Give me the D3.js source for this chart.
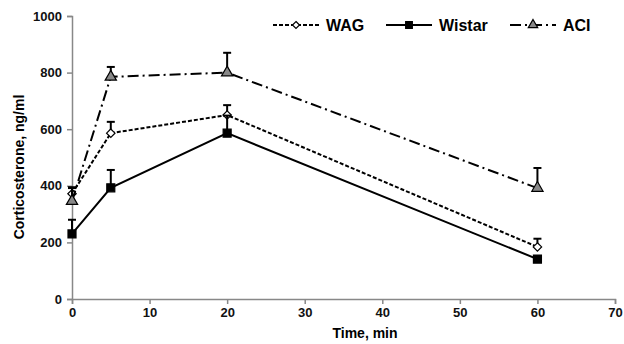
<!DOCTYPE html>
<html lang="en">
<head>
<meta charset="UTF-8">
<title>Corticosterone</title>
<script src="https://cdn.jsdelivr.net/npm/d3@7"></script>
<style>
body { margin: 0; background: #fff; font-family: 'Liberation Sans', Arial, sans-serif; }
.tick text { font-weight: bold; font-size: 13px; fill: #111; }
</style>
</head>
<body>
<div id="chart"></div>
<script>
// Data
const times = [0, 5, 20, 60];
const wagValues = [372, 586, 650, 184];
const wagErrors = [395, 626, 685, 213];
const wistarValues = [230, 393, 586, 141];
const wistarErrors = [280, 456, 648, 150];
const aciValues = [346, 785, 800, 392];
const aciErrors = [392, 820, 870, 463];
const xTicks = [0, 10, 20, 30, 40, 50, 60, 70];
const yTicks = [0, 200, 400, 600, 800, 1000];

const series = [
    { name: "WAG", values: wagValues, errors: wagErrors, dash: "4,2", symbol: d3.symbolDiamond2, size: 45, fill: "#fff", lx: 273 },
    { name: "Wistar", values: wistarValues, errors: wistarErrors, dash: null, symbol: d3.symbolSquare, size: 64, fill: "#000", lx: 386 },
    { name: "ACI", values: aciValues, errors: aciErrors, dash: "11,4,2,4", symbol: d3.symbolTriangle, size: 55, fill: "#888", lx: 510 }
];

const width = 624, height = 344;
const svg = d3.select("#chart").append("svg")
    .attr("width", width).attr("height", height);

const x = d3.scaleLinear().domain([0, 70]).range([72, 615]);
const y = d3.scaleLinear().domain([0, 1000]).range([299, 16]);

// Axes
const xAxis = svg.append("g")
    .attr("transform", `translate(0,${y(0)})`)
    .call(d3.axisBottom(x).tickValues(xTicks).tickFormat(d3.format("d")).tickSize(5).tickPadding(4));
const yAxis = svg.append("g")
    .attr("transform", `translate(${x(0)},0)`)
    .call(d3.axisLeft(y).tickValues(yTicks).tickFormat(d3.format("d")).tickSize(5).tickPadding(5));
[xAxis, yAxis].forEach(a => {
    a.select(".domain").attr("stroke", "#888").attr("stroke-width", 1.5);
    a.selectAll(".tick line").attr("stroke", "#888").attr("stroke-width", 1.5);
});

// Axis titles
svg.append("text")
    .attr("x", 365).attr("y", 338)
    .attr("text-anchor", "middle")
    .attr("font-weight", "bold").attr("font-size", 14)
    .text("Time, min");
svg.append("text")
    .attr("transform", `translate(24,167) rotate(-90)`)
    .attr("text-anchor", "middle")
    .attr("font-weight", "bold").attr("font-size", 14)
    .text("Corticosterone, ng/ml");

const line = d3.line().x(d => x(d[0])).y(d => y(d[1]));

series.forEach(s => {
    const pts = times.map((t, i) => [t, s.values[i]]);

    // Error bars (upper only)
    times.forEach((t, i) => {
        svg.append("line")
            .attr("x1", x(t)).attr("x2", x(t))
            .attr("y1", y(s.values[i])).attr("y2", y(s.errors[i]))
            .attr("stroke", "#000").attr("stroke-width", 2);
        svg.append("line")
            .attr("x1", x(t) - 4).attr("x2", x(t) + 4)
            .attr("y1", y(s.errors[i])).attr("y2", y(s.errors[i]))
            .attr("stroke", "#000").attr("stroke-width", 2);
    });

    svg.append("path")
        .datum(pts)
        .attr("fill", "none")
        .attr("stroke", "#000")
        .attr("stroke-width", 2)
        .attr("stroke-dasharray", s.dash)
        .attr("d", line);

    svg.selectAll(null)
        .data(pts)
        .enter().append("path")
        .attr("transform", d => `translate(${x(d[0])},${y(d[1])})`)
        .attr("d", d3.symbol().type(s.symbol).size(s.size))
        .attr("fill", s.fill)
        .attr("stroke", "#000")
        .attr("stroke-width", 1.2);

    // Legend
    const ly = 25;
    svg.append("line")
        .attr("x1", s.lx).attr("x2", s.lx + 46)
        .attr("y1", ly).attr("y2", ly)
        .attr("stroke", "#000").attr("stroke-width", 2)
        .attr("stroke-dasharray", s.dash);
    svg.append("path")
        .attr("transform", `translate(${s.lx + 23},${ly})`)
        .attr("d", d3.symbol().type(s.symbol).size(s.size * 0.7))
        .attr("fill", s.fill)
        .attr("stroke", "#000")
        .attr("stroke-width", 1.2);
    svg.append("text")
        .attr("x", s.lx + 53).attr("y", ly + 6)
        .attr("font-weight", "bold").attr("font-size", 16)
        .text(s.name);
});
</script>
</body>
</html>
